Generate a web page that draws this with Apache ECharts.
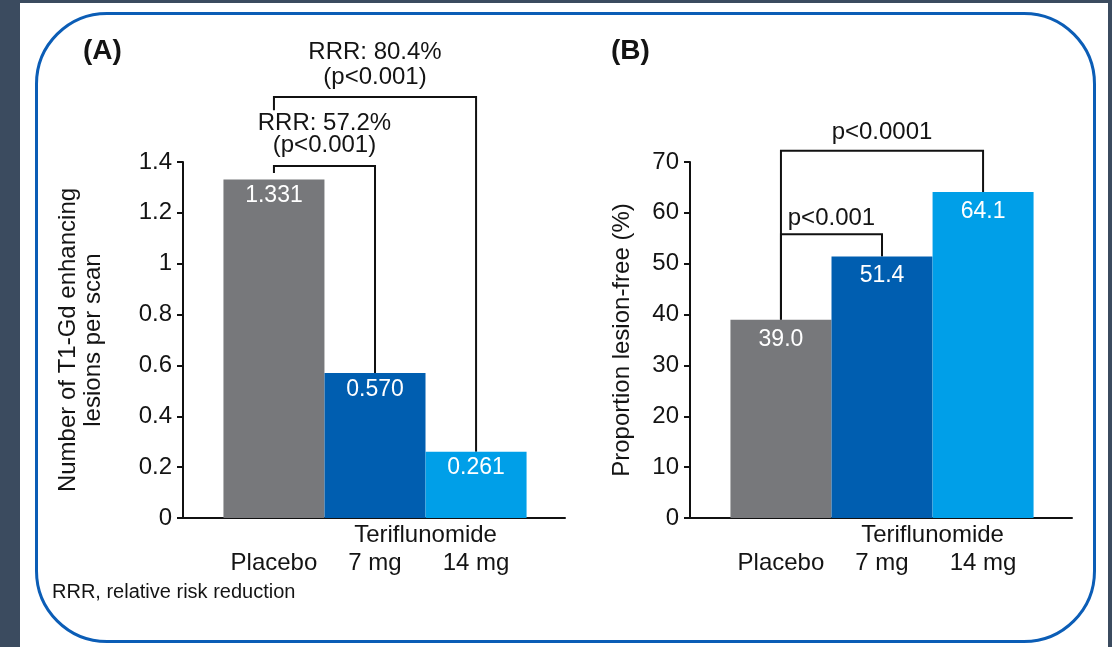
<!DOCTYPE html>
<html>
<head>
<meta charset="utf-8">
<script src="https://cdn.jsdelivr.net/npm/echarts@6/dist/echarts.min.js"></script>
<style>
  html, body { margin: 0; padding: 0; }
  body { width: 1112px; height: 647px; background: #3b4b5f; position: relative; overflow: hidden; }
  #panel { position: absolute; left: 20px; top: 3px; width: 1088px; height: 644px; background: #ffffff; }
  #frame { position: absolute; left: 35px; top: 12px; width: 1055px; height: 625px; border: 3px solid #0b5db6; border-radius: 72px; }
  #chart { position: absolute; left: 0; top: 0; width: 1112px; height: 647px; }
</style>
</head>
<body>
<div id="panel"></div>
<div id="frame"></div>
<div id="chart"></div>
<script>
// ---------- data ----------
const categories = ['Placebo', '7 mg', '14 mg'];
const groupLabel = 'Teriflunomide';
const barColors = ['#77787b', '#005eb0', '#009fe8'];

const valuesA = [1.331, 0.570, 0.261];
const valuesB = [39.0, 51.4, 64.1];
const decimalsA = 3;
const decimalsB = 1;

const yMinA = 0, yMaxA = 1.4, yStepA = 0.2;
const yMinB = 0, yMaxB = 70, yStepB = 10;

const yNameA = 'Number of T1-Gd enhancing\nlesions per scan';
const yNameB = 'Proportion lesion-free (%)';

// comparison brackets: [fromIndex, toIndex, bracketLevel, leftLegEnd, rightLegEnd] (data units)
const bracketsA = [
  [0, 1, 1.384, 1.357, 0.570],
  [0, 2, 1.656, 1.604, 0.261]
];
const bracketsB = [
  [0, 1, 55.8, 39.0, 51.4],
  [0, 2, 72.2, 39.0, 64.1]
];
// annotation texts: [x (category units), y (data units)]
const notesA = [
  [0.5, 1.553], [0.5, 1.467], [1.0, 1.832], [1.0, 1.734]
];
const noteTextsA = ['RRR: 57.2%', '(p<0.001)', 'RRR: 80.4%', '(p<0.001)'];
const notesB = [
  [0.5, 59.0], [1.0, 75.9]
];
const noteTextsB = ['p<0.001', 'p<0.0001'];

const footnote = 'RRR, relative risk reduction';

// ---------- chart ----------
const FONT = '"Liberation Sans", Arial, Helvetica, sans-serif';
const INK = '#141414';
const chart = echarts.init(document.getElementById('chart'), null, { renderer: 'canvas' });

function xAxes(gi) {
  const base = {
    gridIndex: gi, type: 'value', min: -0.9, max: 2.88, position: 'bottom',
    splitLine: { show: false }, axisTick: { show: false }
  };
  return [
    Object.assign({}, base, {
      axisLine: { show: true, onZero: false, lineStyle: { color: '#111', width: 2 } },
      axisLabel: {
        customValues: categories.map((c, i) => i),
        formatter: v => categories[Math.round(v)],
        margin: 33, fontSize: 24, color: INK, fontFamily: FONT
      }
    }),
    Object.assign({}, base, {
      axisLine: { show: false },
      axisLabel: {
        customValues: [1.5],
        formatter: () => groupLabel,
        margin: 5, fontSize: 24, color: INK, fontFamily: FONT
      }
    })
  ];
}

function yAxis(gi, mn, mx, step, name, gap, lh) {
  return {
    gridIndex: gi, type: 'value', min: mn, max: mx, interval: step,
    name: name, nameLocation: 'middle', nameGap: gap, nameRotate: 90,
    nameTextStyle: { fontSize: 24, color: INK, fontFamily: FONT, lineHeight: lh },
    axisLine: { show: true, onZero: false, lineStyle: { color: '#111', width: 2 } },
    axisTick: { show: true, length: 6, lineStyle: { color: '#111', width: 2 } },
    axisLabel: { margin: 11, fontSize: 24, color: INK, fontFamily: FONT },
    splitLine: { show: false }
  };
}

function barSeries(xi, yi, values, dec, dist) {
  return {
    type: 'bar', xAxisIndex: xi, yAxisIndex: yi, barWidth: 101,
    data: values.map((v, i) => ({ value: [i, v], itemStyle: { color: barColors[i] } })),
    label: {
      show: true, position: 'insideTop', distance: dist, color: '#ffffff',
      fontSize: 23, fontFamily: FONT,
      formatter: p => p.value[1].toFixed(dec)
    },
    silent: true
  };
}

function bracketSeries(xi, yi, data) {
  return {
    type: 'custom', xAxisIndex: xi, yAxisIndex: yi, clip: false, silent: true,
    data: data,
    renderItem: (params, api) => {
      const x1 = api.value(0), x2 = api.value(1), lvl = api.value(2);
      const p1 = api.coord([x1, api.value(3)]);
      const p2 = api.coord([x1, lvl]);
      const p3 = api.coord([x2, lvl]);
      const p4 = api.coord([x2, api.value(4)]);
      return {
        type: 'polyline',
        shape: { points: [p1, p2, p3, p4] },
        style: { stroke: '#111', lineWidth: 2, fill: null }
      };
    }
  };
}

function noteSeries(xi, yi, data, texts) {
  return {
    type: 'custom', xAxisIndex: xi, yAxisIndex: yi, clip: false, silent: true,
    data: data,
    renderItem: (params, api) => {
      const p = api.coord([api.value(0), api.value(1)]);
      return {
        type: 'text',
        style: {
          text: texts[params.dataIndex], x: p[0], y: p[1],
          align: 'center', verticalAlign: 'middle',
          fontSize: 24, fontFamily: FONT, fill: INK
        }
      };
    }
  };
}

const option = {
  animation: false,
  backgroundColor: 'transparent',
  title: [
    { text: '(A)', left: 83, top: 37, padding: 0,
      textStyle: { fontFamily: '"Liberation Sans Narrow", "Arial Narrow", ' + FONT, fontWeight: 'bold', fontSize: 28, color: INK } },
    { text: '(B)', left: 611, top: 37, padding: 0,
      textStyle: { fontFamily: '"Liberation Sans Narrow", "Arial Narrow", ' + FONT, fontWeight: 'bold', fontSize: 28, color: INK } },
    { text: footnote, left: 52, top: 582, padding: 0,
      textStyle: { fontFamily: FONT, fontWeight: 'normal', fontSize: 20, color: INK } }
  ],
  grid: [
    { left: 183, top: 162, width: 382, height: 356 },
    { left: 690, top: 162, width: 382, height: 356 }
  ],
  xAxis: xAxes(0).concat(xAxes(1)),
  yAxis: [
    yAxis(0, yMinA, yMaxA, yStepA, yNameA, 77, 25),
    yAxis(1, yMinB, yMaxB, yStepB, yNameB, 55, 25)
  ],
  series: [
    barSeries(0, 0, valuesA, decimalsA, 5),
    barSeries(2, 1, valuesB, decimalsB, 8),
    bracketSeries(0, 0, bracketsA),
    bracketSeries(2, 1, bracketsB),
    noteSeries(0, 0, notesA, noteTextsA),
    noteSeries(2, 1, notesB, noteTextsB)
  ]
};
chart.setOption(option);
</script>
</body>
</html>
